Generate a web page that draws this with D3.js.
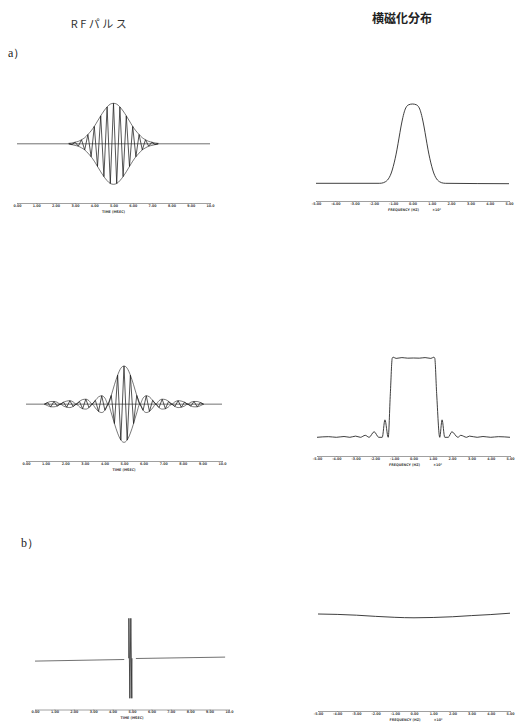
<!DOCTYPE html>
<html><head><meta charset="utf-8">
<script src="https://cdn.jsdelivr.net/npm/d3@7"></script>
<style>body{margin:0;background:#fff}svg{display:block}</style>
</head><body>
<svg id="c" width="517" height="726"></svg>
<script>
// ---------- data ----------
const timeTickValues = [0,1,2,3,4,5,6,7,8,9,10];
const timeTickLabels = ["0.00","1.00","2.00","3.00","4.00","5.00","6.00","7.00","8.00","9.00","10.0"];
const freqTickValues = [-5,-4,-3,-2,-1,0,1,2,3,4,5];
const freqTickLabels = ["-5.00","-4.00","-3.00","-2.00","-1.00","0.00","1.00","2.00","3.00","4.00","5.00"];

// Gaussian RF pulse: successive carrier extrema (normalised amplitude)
const gaussPulseValues = [0.01,-0.02,0.04,-0.06,0.10,-0.15,0.23,-0.32,0.43,-0.56,0.69,-0.81,0.91,-0.98,1.00,
  -0.98,0.91,-0.81,0.69,-0.56,0.43,-0.32,0.23,-0.15,0.10,-0.06,0.04,-0.02,0.01];
const gaussPulseSpan = [2.68, 7.32];   // msec of first / last extremum

// Sinc RF pulse: successive carrier extrema
const sincPulseValues = [0,0.04,-0.07,0.07,-0.05,0,0.05,-0.08,0.09,-0.06,0,0.07,-0.12,0.13,-0.09,0,0.10,-0.19,0.22,-0.16,0,0.23,-0.51,0.76,-0.94,
  1.00,
  -0.94,0.76,-0.51,0.23,0,-0.16,0.22,-0.19,0.10,0,-0.09,0.13,-0.12,0.07,0,-0.06,0.09,-0.08,0.05,0,-0.05,0.07,-0.07,0.04,0];
const sincPulseSpan = [0.94, 9.06];

// Hard (rectangular) pulse
const hardPulseTimes = [4.83,4.84,4.89,4.94,4.99,5.00];
const hardPulseValues = [0,1,-1,1,-1,0];
const hardBaseLeftTimes = [0, 4.6];
const hardBaseLeftValues = [-0.07, -0.03];
const hardBaseRightTimes = [5.2, 9.8];
const hardBaseRightValues = [-0.005, 0.03];

// Transverse magnetisation profiles
const gaussProfileFreq = [-5,-1.7,-1.5,-1.4,-1.3,-1.2,-1.1,-1.0,-0.9,-0.8,-0.7,-0.6,-0.5,-0.4,-0.3,-0.2,0,0.2,0.3,0.4,0.5,0.6,0.7,0.8,0.9,1.0,1.1,1.2,1.3,1.4,1.5,1.7,5];
const gaussProfileValues = [0,0,0.008,0.02,0.04,0.075,0.13,0.21,0.31,0.43,0.57,0.71,0.83,0.92,0.97,0.99,1.0,0.99,0.97,0.92,0.83,0.71,0.57,0.43,0.31,0.21,0.13,0.075,0.04,0.02,0.008,0,-0.005];

const sincProfileFreq = [-5,-4.4,-4.0,-3.6,-3.3,-3.0,-2.75,-2.5,-2.3,-2.04,-1.8,-1.62,-1.48,-1.31,-1.2,-1.1,-1.05,-0.9,-0.6,-0.3,0,0.3,0.6,0.9,1.05,1.1,1.2,1.36,1.48,1.62,1.8,1.99,2.3,2.45,2.75,2.9,3.3,3.6,4.0,4.4,5];
const sincProfileValues = [0,0.008,0,0.01,0,0.015,0,0.025,0,0.07,0,0,0.22,0,0.55,1.0,1.01,0.995,1.005,0.998,1.0,0.998,1.005,0.995,1.01,1.0,0.55,0,0.22,0,0,0.07,0,0.025,0,0.015,0,0.01,0,0.008,0];

const hardProfileFreq = [-5,-4,-3,-2,-1,0,1,2,3,4,5];
const hardProfileValues = [1.0,0.995,0.985,0.97,0.958,0.952,0.956,0.965,0.98,0.993,1.01];

// ---------- drawing ----------
const svg = d3.select("#c");
const ink = "#1c1c1c";
const smallFont = "'DejaVu Sans Condensed','DejaVu Sans'";

svg.append("text").attr("x",100).attr("y",28).attr("text-anchor","middle")
  .attr("font-family","'Noto Sans CJK JP'").attr("font-size",11).attr("letter-spacing",2.5)
  .attr("fill","#333").text("RFパルス");
svg.append("text").attr("x",402).attr("y",23).attr("text-anchor","middle")
  .attr("font-family","'Noto Sans CJK JP'").attr("font-size",12).attr("font-weight","bold")
  .attr("fill","#222").text("横磁化分布");
svg.append("text").attr("x",8).attr("y",57).attr("font-family","'Liberation Serif'")
  .attr("font-size",12).attr("fill","#222").text("a）");
svg.append("text").attr("x",21).attr("y",547).attr("font-family","'Liberation Serif'")
  .attr("font-size",12).attr("fill","#222").text("b）");

function smallText(x, y, txt) {
  svg.append("text").attr("x", x).attr("y", y).attr("text-anchor","middle")
    .attr("font-size","3.6px").attr("font-family",smallFont).attr("font-weight","bold")
    .attr("fill","#444").text(txt);
}

function drawAxis(x, axisY, tickValues, tickLabels, kind) {
  const g = svg.append("g").attr("transform",`translate(0,${axisY})`)
    .call(d3.axisBottom(x).tickValues(tickValues).tickFormat((d,i)=>tickLabels[i]).tickSize(1).tickPadding(0.4));
  g.attr("font-size",null).attr("font-family",null);
  g.select(".domain").attr("stroke","#888").attr("stroke-width",0.8);
  g.selectAll(".tick line").attr("stroke","#777").attr("stroke-width",0.6);
  g.selectAll(".tick text").attr("font-size","3.6px").attr("font-family",smallFont)
    .attr("font-weight","bold").attr("fill","#444");
  if (kind === "time") {
    smallText(x(5), axisY + 9.6, "TIME (MSEC)");
  } else {
    smallText(x(0) - 9, axisY + 9.6, "FREQUENCY (HZ)");
    smallText(x(0) + 24, axisY + 9.6, "×10²");
  }
}

function drawPulse(p) {
  const x = d3.scaleLinear().domain([0,10]).range(p.xr);
  const y = d3.scaleLinear().domain([-1,1]).range(p.yr);
  const line = d3.line().x(d=>x(d.t)).y(d=>y(d.v));
  (p.base || [[{t:0,v:0},{t:10,v:0}]]).forEach(seg => {
    svg.append("path").attr("d", line(seg)).attr("fill","none").attr("stroke","#333").attr("stroke-width",0.7);
  });
  let pts;
  if (p.values) {
    const idx = d3.scaleLinear().domain([0, p.values.length-1]).range(p.span);
    pts = p.values.map((v,i)=>({t: idx(i), v}));
  } else {
    pts = p.times.map((t,i)=>({t, v: p.vals[i]}));
  }
  svg.append("path").attr("d", line(pts)).attr("fill","none").attr("stroke",ink).attr("stroke-width",0.75);
  if (p.envelope) {
    const envLine = d3.line().x(d=>x(d.t)).y(d=>y(d.v)).curve(d3.curveMonotoneX);
    [1,-1].forEach(s => {
      svg.append("path").attr("d", envLine(pts.map(d=>({t:d.t, v:s*Math.abs(d.v)}))))
        .attr("fill","none").attr("stroke",ink).attr("stroke-width",0.6);
    });
  }
  drawAxis(x, p.axisY, timeTickValues, timeTickLabels, "time");
}

function drawProfile(p) {
  const x = d3.scaleLinear().domain([-5,5]).range(p.xr);
  const y = d3.scaleLinear().domain([0,1]).range(p.yr);
  const line = d3.line().x(d=>x(d.f)).y(d=>y(d.v)).curve(d3.curveMonotoneX);
  const pts = p.freq.map((f,i)=>({f, v: p.vals[i]}));
  svg.append("path").attr("d", line(pts)).attr("fill","none").attr("stroke",ink).attr("stroke-width",0.85);
  drawAxis(x, p.axisY, freqTickValues, freqTickLabels, "freq");
}

// a) Gaussian pulse
drawPulse({xr:[17,210], yr:[184.3,103.3], values: gaussPulseValues, span: gaussPulseSpan, envelope:true, axisY:203});
drawProfile({xr:[316,509], yr:[183.3,104], freq: gaussProfileFreq, vals: gaussProfileValues, axisY:201});

// a) Sinc pulse
drawPulse({xr:[26,222], yr:[442.3,366], values: sincPulseValues, span: sincPulseSpan, envelope:true, axisY:461});
drawProfile({xr:[317,510], yr:[437.3,358], freq: sincProfileFreq, vals: sincProfileValues, axisY:456});

// b) Hard pulse
drawPulse({xr:[35,229], yr:[698.3,618.3], times: hardPulseTimes, vals: hardPulseValues, envelope:false, axisY:709.5,
  base: [hardBaseLeftTimes.map((t,i)=>({t, v: hardBaseLeftValues[i]})), hardBaseRightTimes.map((t,i)=>({t, v: hardBaseRightValues[i]}))]});
drawProfile({xr:[318,510], yr:[693,614], freq: hardProfileFreq, vals: hardProfileValues, axisY:711});
</script>
</body></html>
